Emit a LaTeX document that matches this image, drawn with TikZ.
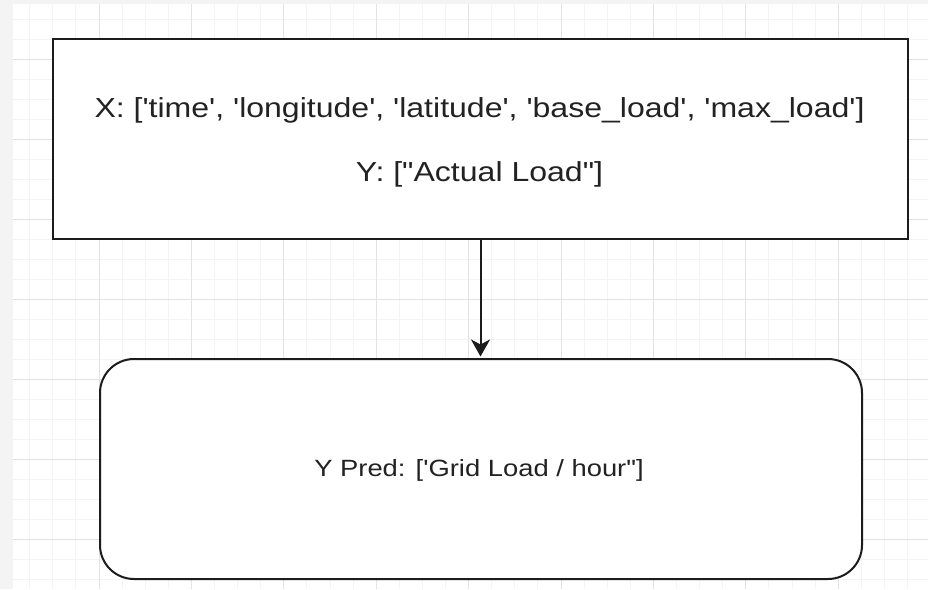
\documentclass[tikz,border=0pt]{standalone}
\usetikzlibrary{arrows.meta}
% Fonts loaded directly, so that ' and " stay straight quotes
\font\toptext="Liberation Sans" at 27.5pt
\font\bottext="Liberation Sans" at 23.5pt
\definecolor{pagegray}{HTML}{F4F4F4}
\definecolor{minorgrid}{HTML}{F4F4F4}
\definecolor{majorgrid}{HTML}{E3E3E3}
\definecolor{ink}{HTML}{1C1C1C}
\definecolor{textcol}{HTML}{222222}
\tikzset{
  inbox/.style={draw=ink, line width=2pt, fill=white, rectangle, inner sep=0pt},
  outbox/.style={draw=ink, line width=2pt, fill=white, rectangle, rounded corners=34pt, inner sep=0pt},
  lbl/.style={text=textcol, inner sep=0pt, anchor=base},
  conn/.style={draw=ink, line width=2pt, -{Stealth[length=17pt, width=19pt, inset=5pt]}, shorten >=1.5pt},
  minorline/.style={draw=minorgrid, line width=0.9pt},
  majorline/.style={draw=majorgrid, line width=1pt}
}
\begin{document}
\begin{tikzpicture}[x=1pt, y=-1pt]
  % page and canvas
  \fill[pagegray] (0,0) rectangle (928,589);
  \useasboundingbox (0,0) rectangle (928,589);
  \fill[white] (13,4) rectangle (928,589);
  \begin{scope}
    \clip (13,4) rectangle (928,589);
    \foreach \k in {0,...,40} { \draw[minorline] ({6.6+23.1*\k},0) -- ++(0,589); }
    \foreach \k in {0,...,30} { \draw[minorline] (0,{-1+20*\k}) -- ++(928,0); }
    \foreach \k in {0,...,10} { \draw[majorline] ({6.6+92.4*\k},0) -- ++(0,589); }
    \foreach \k in {0,...,8}  { \draw[majorline] (0,{-21+80*\k}) -- ++(928,0); }
  \end{scope}

  % input box
  \node[inbox, minimum width=855pt, minimum height=200pt] (inp) at (480.5,138.5) {};
  \node[lbl] (xline) at (479.5,117.5)
    {\scalebox{1.165}[1]{\toptext X: ['time', 'longitude', 'latitude', 'base\_load', 'max\_load']}};
  \node[lbl] (yline) at (479.5,181.7)
    {\scalebox{1.165}[1]{\toptext Y: ["Actual Load"]}};

  % prediction box
  \node[outbox, minimum width=762pt, minimum height=220pt] (outp) at (481,469) {};
  \node[lbl] (predline) at (479,476)
    {\scalebox{1.165}[1]{\bottext Y Pred: ['Grid Load / hour"]}};

  % connector
  \draw[conn] (inp.south) -- (inp.south |- outp.north);
\end{tikzpicture}
\end{document}
